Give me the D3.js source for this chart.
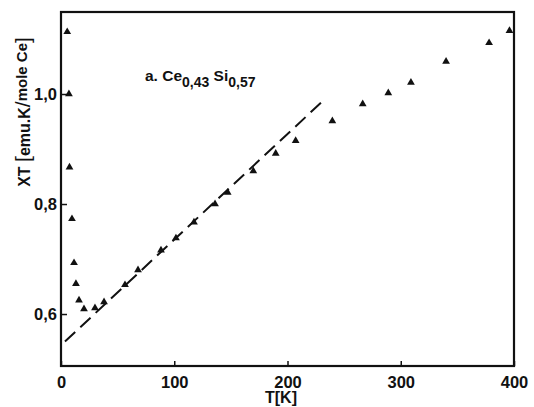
<!DOCTYPE html>
<html>
<head>
<meta charset="utf-8">
<script src="https://cdn.jsdelivr.net/npm/d3@7"></script>
<style>
  html, body { margin: 0; padding: 0; background: #fff; }
  svg { display: block; }
  text { font-family: "Liberation Sans", Arial, sans-serif; font-weight: bold; fill: #111; }
</style>
</head>
<body>
<svg id="chart" width="534" height="407"></svg>
<script>
// 측정 데이터 (T [K], χT)
const tempK = [5.5, 7, 7.5, 9.7, 11.5, 13.2, 15.9, 20.3, 30, 38, 56.5, 68, 88.3, 101.5,
  117.4, 136, 147.2, 169.8, 189.6, 207.2, 239.6, 266.4, 289, 309, 340, 378, 396];
const chiT = [1.113, 1.0, 0.867, 0.773, 0.693, 0.655, 0.625, 0.609, 0.611, 0.622, 0.653, 0.680, 0.716, 0.738,
  0.767, 0.800, 0.821, 0.860, 0.892, 0.915, 0.951, 0.982, 1.002, 1.021, 1.059, 1.093, 1.115];

// 점선 (고온 직선 외삽)
const fitT = [3.5, 230];
const fitChi = [0.550, 0.985];

const xTicks = [0, 100, 200, 300, 400];
const yTicks = [0.6, 0.8, 1.0];

const svg = d3.select("#chart");
const pL = 61, pR = 514, pT = 12, pB = 366;

const x = d3.scaleLinear().domain([0, 400]).range([pL, pR]);
const y = d3.scaleLinear().domain([0.5055, 1.1491]).range([pB, pT]);

// 프레임
svg.append("rect")
  .attr("x", pL).attr("y", pT)
  .attr("width", pR - pL).attr("height", pB - pT)
  .attr("fill", "none").attr("stroke", "#111").attr("stroke-width", 2.2);

// x축 (안쪽 눈금)
const fmt = d => d3.format(".1f")(d).replace(".", ",");
svg.append("g")
  .attr("transform", `translate(0,${pB})`)
  .call(d3.axisBottom(x).tickValues(xTicks).tickSize(-5).tickPadding(10).tickFormat(d3.format("d")))
  .call(g => g.select(".domain").remove())
  .call(g => g.selectAll("line").attr("stroke", "#111").attr("stroke-width", 1.5))
  .call(g => g.selectAll("text").attr("font-size", 16.5).attr("font-family", "Liberation Sans, Arial, sans-serif").attr("font-weight", "bold").attr("fill", "#111"));

// y축
svg.append("g")
  .attr("transform", `translate(${pL},0)`)
  .call(d3.axisLeft(y).tickValues(yTicks).tickSize(-6).tickPadding(4).tickFormat(fmt))
  .call(g => g.select(".domain").remove())
  .call(g => g.selectAll("line").attr("stroke", "#111").attr("stroke-width", 1.5))
  .call(g => g.selectAll("text").attr("font-size", 16.5).attr("font-family", "Liberation Sans, Arial, sans-serif").attr("font-weight", "bold").attr("fill", "#111"));

// 점선
svg.append("line")
  .attr("x1", x(fitT[0])).attr("y1", y(fitChi[0]))
  .attr("x2", x(fitT[1])).attr("y2", y(fitChi[1]))
  .attr("stroke", "#111").attr("stroke-width", 2)
  .attr("stroke-dasharray", "14,7");

// 삼각형 점
const tri = d3.symbol().type(d3.symbolTriangle).size(26);
svg.append("g")
  .selectAll("path")
  .data(tempK.map((t, i) => [t, chiT[i]]))
  .join("path")
  .attr("d", tri)
  .attr("transform", d => `translate(${x(d[0])},${y(d[1])})`)
  .attr("fill", "#111");

// 시료 이름
const lab = svg.append("text").attr("x", 145).attr("y", 81).attr("font-size", 15.5);
lab.append("tspan").text("a. Ce");
lab.append("tspan").attr("font-size", 14).attr("dy", 6).text("0,43");
lab.append("tspan").attr("dy", -6).text(" Si");
lab.append("tspan").attr("font-size", 14).attr("dy", 6).text("0,57");

// 축 제목
svg.append("text")
  .attr("x", 281).attr("y", 403)
  .attr("text-anchor", "middle").attr("font-size", 16)
  .text("T[K]");

const yl = svg.append("text")
  .attr("transform", "translate(30,112) rotate(-90)")
  .attr("text-anchor", "middle").attr("font-size", 16);
yl.append("tspan").text("XT ");
yl.append("tspan").attr("font-size", 21).attr("font-weight", "normal").text("[");
yl.append("tspan").text("emu.K");
yl.append("tspan").attr("font-size", 21).attr("font-weight", "normal").text("/");
yl.append("tspan").attr("font-size", 15).attr("dy", -3).text("mole Ce");
yl.append("tspan").attr("font-size", 21).attr("font-weight", "normal").attr("dy", 3).text("]");
</script>
</body>
</html>
